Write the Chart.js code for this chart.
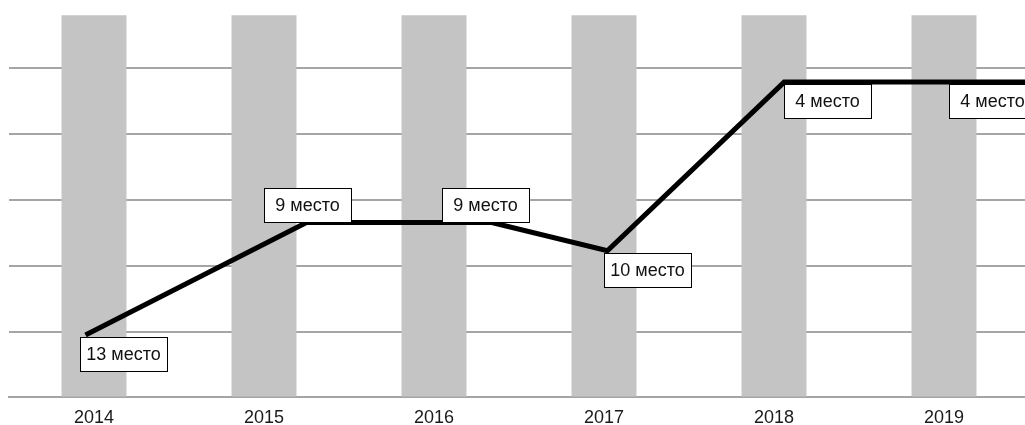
<!DOCTYPE html>
<html lang="ru">
<head>
<meta charset="utf-8">
<script src="https://cdn.jsdelivr.net/npm/chart.js@4/dist/chart.umd.min.js"></script>
<style>
  html, body { margin: 0; padding: 0; background: #fff; overflow: hidden; }
  #wrap { width: 1040px; height: 425px; position: relative; }
</style>
</head>
<body>
<div id="wrap"><canvas id="rating"></canvas></div>
<script>
// годы и места в рейтинге
const years = ['2014', '2015', '2016', '2017', '2018', '2019'];
const columnValues = [5.8, 5.8, 5.8, 5.8, 5.8, 5.8];
const ranks = [13, 9, 9, 10, 4, 4];
// положение точек линии по горизонтали (в долях года)
const rankPos = [-0.05, 1.25, 2.34, 3.02, 4.06, 5.5];

// где рисовать подпись относительно точки
const labelSide = ['below', 'above', 'above', 'below', 'below', 'below'];
const labelDx = [-14, 0, 8, 0, 10, 5];

const FONT = '"Liberation Sans", Arial, sans-serif';
Chart.defaults.font.family = FONT;

// подписи "N место" в рамках
const rankLabels = {
  id: 'rankLabels',
  afterDatasetsDraw(chart) {
    const ctx = chart.ctx;
    const meta = chart.getDatasetMeta(0);
    const xCat = chart.scales.x;
    const w = 87, h = 34;
    ctx.save();
    ctx.font = '18px ' + FONT;
    ctx.textAlign = 'center';
    ctx.textBaseline = 'middle';
    meta.data.forEach((pt, i) => {
      const left = Math.round(xCat.getPixelForValue(i) + labelDx[i]);
      const top = Math.round(labelSide[i] === 'below' ? pt.y + 2 : pt.y - h - 1);
      ctx.fillStyle = '#fff';
      ctx.fillRect(left, top, w, h);
      ctx.strokeStyle = '#000';
      ctx.lineWidth = 1;
      ctx.strokeRect(left + 0.5, top + 0.5, w, h);
      ctx.fillStyle = '#111';
      ctx.fillText(ranks[i] + ' место', left + w / 2, top + h / 2 + 1);
    });
    ctx.restore();
  }
};

new Chart(document.getElementById('rating'), {
  type: 'bar',
  data: {
    labels: years,
    datasets: [
      {
        type: 'line',
        data: rankPos.map((x, i) => ({ x: x, y: ranks[i] })),
        xAxisID: 'xLine',
        yAxisID: 'yRank',
        borderColor: '#000',
        borderWidth: 5,
        borderJoinStyle: 'miter',
        pointRadius: 0,
        tension: 0,
        order: 0
      },
      {
        data: columnValues,
        xAxisID: 'x',
        yAxisID: 'y',
        backgroundColor: '#c4c4c4',
        barPercentage: 0.382,
        categoryPercentage: 1,
        grouped: false,
        order: 1
      }
    ]
  },
  options: {
    responsive: true,
    maintainAspectRatio: false,
    animation: false,
    layout: { padding: { left: 9, right: 11, top: 2, bottom: -14 } },
    plugins: { legend: { display: false }, tooltip: { enabled: false } },
    scales: {
      x: {
        grid: { display: false, drawTicks: false },
        border: { color: '#a5a5a5', width: 2 },
        ticks: { color: '#1a1a1a', font: { size: 18 }, padding: 10 }
      },
      y: {
        min: 0,
        max: 6,
        ticks: { display: false, stepSize: 1 },
        border: { display: false },
        grid: {
          drawTicks: false,
          lineWidth: 2,
          color: c => (c.tick && c.tick.value === 6 ? 'rgba(0,0,0,0)' : '#a5a5a5')
        }
      },
      xLine: { type: 'linear', display: false, offset: false, min: -0.5, max: 5.5 },
      yRank: { type: 'linear', display: false, offset: false, reverse: true, min: 1.15, max: 15.22 }
    }
  },
  plugins: [rankLabels]
});
</script>
</body>
</html>
